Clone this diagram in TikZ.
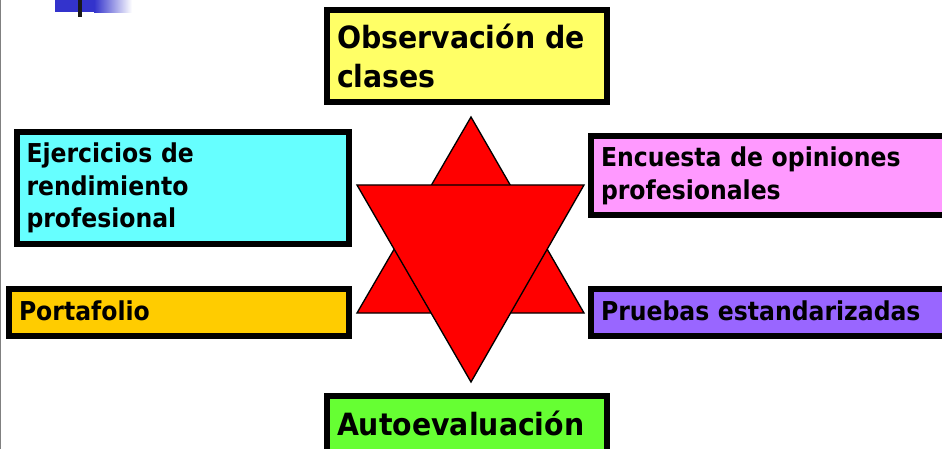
\documentclass[tikz,border=0pt]{standalone}
\usepackage{fontspec}
\setmainfont{DejaVu Sans}[BoldFont={DejaVu Sans Bold},BoldFeatures={FakeStretch=0.905}]
\newfontfamily\bigbold{DejaVu Sans Bold}[FakeStretch=0.925]
\begin{document}
\begin{tikzpicture}[x=0.75pt,y=-0.75pt,
  box/.style={draw=black,line width=4.5pt,anchor=center,align=left,inner sep=0pt,outer sep=0pt,font=\fontsize{19.5}{24.5}\selectfont\bfseries},
  bigbox/.style={box,font=\fontsize{23}{29}\selectfont\bigbold},
  star/.style={fill=red,draw=black,line width=1pt,line join=miter}]
\useasboundingbox (0,0) rectangle (942,449);
\clip (0,0) rectangle (942,449);
\fill[white] (0,0) rectangle (942,449);
\fill[gray] (0,0) rectangle (1,449);
\fill[left color={rgb,255:red,51;green,51;blue,204},right color=white,draw=none] (94,0) rectangle (132,13);
\fill[color={rgb,255:red,51;green,51;blue,204}] (55,0) rectangle (94,12);
\fill[black!90] (78,0) rectangle (82,17);
\coordinate (ua) at (471,117); \coordinate (ul) at (357,313); \coordinate (ur) at (584,313);
\coordinate (dl) at (357,185); \coordinate (dr) at (584,185); \coordinate (da) at (471,382);
\draw[star] (ua) -- (ul) -- (ur) -- cycle;
\draw[star] (dl) -- (dr) -- (da) -- cycle;
\node[bigbox,fill={rgb,255:red,255;green,255;blue,102},minimum width=280*0.75pt,minimum height=92*0.75pt,text width=260*0.75pt] (obs) at (467,56) {Observación de\\clases\par\vspace{6pt}};
\node[box,fill={rgb,255:red,102;green,255;blue,255},minimum width=332*0.75pt,minimum height=112*0.75pt,text width=313*0.75pt] (eje) at (183,188) {Ejercicios de\\rendimiento\\profesional};
\node[box,fill={rgb,255:red,255;green,204;blue,0},minimum width=340*0.75pt,minimum height=47*0.75pt,text width=320*0.75pt] (por) at (179,312.5) {\raisebox{3.2pt}{Portafolio}};
\node[box,fill={rgb,255:red,255;green,153;blue,255},minimum width=364*0.75pt,minimum height=79*0.75pt,text width=344*0.75pt] (enc) at (773,175.5) {Encuesta de opiniones\\profesionales\par\vspace{1pt}};
\node[box,fill={rgb,255:red,153;green,102;blue,255},minimum width=364*0.75pt,minimum height=47*0.75pt,text width=344*0.75pt] (pru) at (773,312.5) {\raisebox{3.2pt}{Pruebas estandarizadas}};
\node[bigbox,fill={rgb,255:red,102;green,255;blue,51},minimum width=280*0.75pt,minimum height=64*0.75pt,text width=260*0.75pt] (aut) at (467,428) {\raisebox{7pt}{Autoevaluación}};
\end{tikzpicture}
\end{document}
